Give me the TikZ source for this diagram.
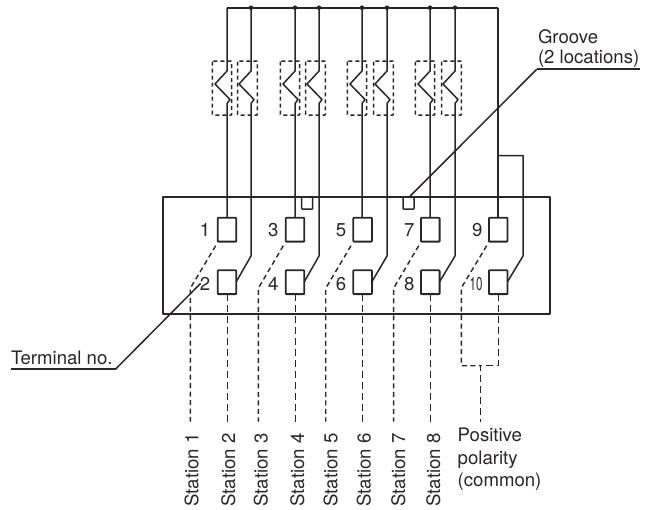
\documentclass[tikz,border=0pt]{standalone}
\usepackage{fontspec}
\setmainfont{TeX Gyre Heros}
\definecolor{ink}{HTML}{2A2627}
\tikzset{
  x=1pt,y=-1pt,
  every path/.style={color=ink,line join=round},
  wire/.style={draw=ink,line width=1.5pt},
  bus/.style={draw=ink,line width=2.4pt},
  leader/.style={draw=ink,line width=1.5pt},
  term/.style={draw=ink,line width=1.8pt,rectangle,rounded corners=0.6pt,minimum width=18.6pt,minimum height=23.8pt,inner sep=0pt,outer sep=0pt},
  groovebox/.style={draw=ink,line width=1.5pt,rounded corners=0.6pt},
  fuse/.style={draw=ink,line width=1.5pt,dash pattern=on 4pt off 3pt,rounded corners=0.6pt},
  sig/.style={draw=ink,line width=1.4pt,dash pattern=on 6.5pt off 4.5pt},
  diag/.style={draw=ink,line width=1.4pt,dash pattern=on 5pt off 3.5pt},
  lbl/.style={text=ink,font=\fontsize{18.6}{22}\selectfont,inner sep=0pt,outer sep=0pt},
  dot/.style={circle,fill=ink,inner sep=0pt,minimum size=4.6pt},
}
\begin{document}
\begin{tikzpicture}
\useasboundingbox (0,0) rectangle (655,509);
% housing
\node[draw=ink,line width=1.9pt,rectangle,minimum width=387.6pt,minimum height=116.7pt,inner sep=0pt,outer sep=0pt] (body) at (356.5,255.65) {};
% grooves
\draw[groovebox] (301.7,197.3) |- (312.7,209) -- (312.7,197.3);
\draw[groovebox] (403,197.3) |- (414,209) -- (414,197.3);
% bus
\coordinate (busL) at (227,7.7);
\coordinate (busR) at (498,7.7);
\draw[bus] (busL) -- (busR);
% terminals
\foreach \n/\x in {1/227,3/295,5/362.6,7/430.3,9/498.2}
  \node[term] (t\n) at (\x,229.7) {};
\foreach \n/\x in {2/227,4/295,6/362.6,8/430.3,10/498.2}
  \node[term] (t\n) at (\x,282.2) {};
% numbers
\foreach \n/\x in {1/205,3/273.3,5/341,7/409.3,9/477.3}
  \node[lbl] (n\n) at (\x,230) {\n};
\foreach \n/\x in {2/205,4/273.3,6/341,8/409.3}
  \node[lbl] (n\n) at (\x,284) {\n};
\node[lbl] (n10) at (476,284) {\scalebox{0.62}[1]{10}};
% odd wires with fuses
\foreach \n/\x in {1/227,3/295,5/362,7/430}{
  \draw[wire] (\x,7.7) -- (\x,71) -- ++(-12,13) -- ++(15,15.5) -- ++(-3,4) -- (t\n.north -| \x,0);
  \draw[fuse] (\x-14.7,61) rectangle (\x+4.7,115);
}
% even wires with fuses
\foreach \n/\x in {2/251,4/319,6/387,8/455}{
  \draw[wire] (\x,7.7) -- (\x,71) -- ++(-12,13) -- ++(15,15.5) -- ++(-3,4) -- (\x,256) -- (t\n.east |- 0,281.7);
  \draw[fuse] (\x-13.3,61) rectangle (\x+6.4,115);
}
\foreach \x in {251,295,319,362,387,430,455}
  \node[dot] at (\x,7.7) {};
% common wires
\draw[wire] (busR) -- (t9.north -| busR);
\draw[wire] (498,155.5) -- (523,155.5) -- (523,256) -- (t10.east |- 0,281.7);
% dashed station lines
\foreach \n/\xa/\xb in {1/215.7/190.3,3/283.3/258.3,5/351/325.7,7/418.7/393.6}
  \draw[diag] (\xa,245.7) -- (\xb,288.3) -- (\xb,421.7);
\foreach \n/\x in {2/227.3,4/295.3,6/362.6,8/430.3}
  \draw[sig] (t\n.south -| \x,0) -- (\x,421.7);
\draw[diag] (486.7,245.7) -- (463,285) -- (461.3,288.3) -- (461.3,365.7) -- (480.3,365.7);
\draw[sig] (t10.south -| 498.3,0) -- (498.3,365.7) -- (480.3,365.7) -- (480.3,421.7);
% leaders
\coordinate (tn) at (200.7,283.3);
\coordinate (gr) at (409,197.3);
\draw[leader] (tn) -- (115.7,369);
\draw[line width=2pt,draw=ink] (115.7,369) -- (11,369);
\draw[leader] (gr) -- (536.7,69.3);
\draw[line width=1.8pt,draw=ink] (536.7,69.3) -- (640,69.3);
% labels
\node[lbl,anchor=base west] (lt) at (11,364) {Terminal no.};
\node[lbl,anchor=base west] (lg1) at (538,43) {Groove};
\node[lbl,anchor=base west] (lg2) at (538,63) {(2 locations)};
\node[lbl,anchor=base west] (lp1) at (457.7,441.7) {Positive};
\node[lbl,anchor=base west] (lp2) at (457.7,464) {polarity};
\node[lbl,anchor=base west] (lp3) at (457.7,486) {(common)};
\foreach \n/\x in {1/198.3,2/235,3/267.7,4/304,5/337.3,6/370.7,7/405,8/440}
  \node[lbl,rotate=90,anchor=base east] (s\n) at (\x,433.5) {Station \n};
\end{tikzpicture}
\end{document}
